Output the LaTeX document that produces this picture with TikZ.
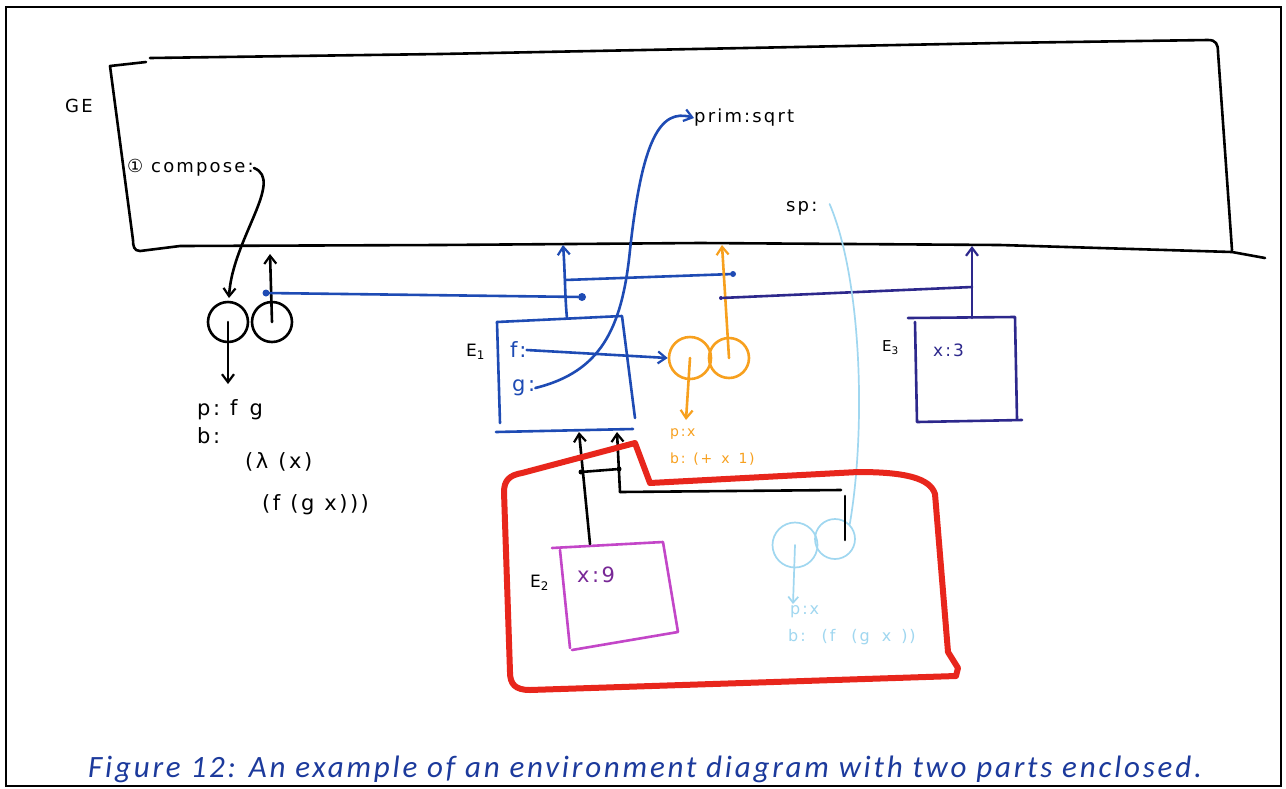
\documentclass[tikz,border=0pt]{standalone}
\usepackage{fontspec}
\setmainfont{DejaVu Sans}
\newfontfamily\hand[LetterSpace=12]{DejaVu Sans}
\newfontfamily\capfont[LetterSpace=9]{Carlito}
\newcommand\hgap[1][7pt]{\hspace{#1}}
\usetikzlibrary{arrows.meta}
\definecolor{penblue}{RGB}{30,75,180}
\definecolor{indigo}{RGB}{45,40,140}
\definecolor{penorange}{RGB}{247,160,30}
\definecolor{lightblue}{RGB}{160,215,240}
\definecolor{penred}{RGB}{232,38,28}
\definecolor{penmagenta}{RGB}{195,70,200}
\definecolor{penpurple}{RGB}{120,40,150}
\definecolor{capblue}{RGB}{28,58,156}
\begin{document}
\begin{tikzpicture}[x=1pt,y=-1pt,
  pen/.style={line width=2.6pt, line cap=round, line join=round},
  thin pen/.style={line width=1.7pt, line cap=round, line join=round},
  arr/.style={-{Straight Barb[length=8pt,width=12pt,line width=2.2pt]}},
  lbl/.style={font=\hand\fontsize{18}{18}\selectfont, inner sep=0pt, anchor=west},
  big lbl/.style={font=\hand\fontsize{21}{21}\selectfont, inner sep=0pt, anchor=west},
  small lbl/.style={font=\hand\fontsize{14}{14}\selectfont, inner sep=0pt, anchor=west},
  frame circle/.style={circle, draw, pen, minimum size=40pt, inner sep=0pt},
  dot/.style={circle, fill, inner sep=0pt, minimum size=6pt}]
\useasboundingbox (0,0) rectangle (1286,788);
\fill[white] (0,0) rectangle (1286,788);
% outer frame
\draw[line width=1.2pt] (6,7) -- (1281,7) -- (1281,786) -- (6,786) -- cycle;

% Global environment box
\draw[pen] (1265,258) -- (1232,252) -- (1000,245) -- (700,243) -- (440,245) -- (180,246) -- (140,251)
  .. controls (134,251) and (133,246) .. (133,240) -- (110,66) -- (146,62) (150,58) -- (440,54) -- (1000,43) -- (1208,40)
  .. controls (1216,40) and (1218,44) .. (1218,52) -- (1232,250);
\node[lbl] (ge) at (65,106) {GE};
\node[lbl] (compose) at (127,168) {① compose:};

% compose closure
\node[frame circle] (c1l) at (228,322) {};
\node[frame circle] (c1r) at (272,322) {};
\coordinate (c1ldown) at (228,384);
\coordinate (gebot1) at (270,254);
\draw[pen,arr] (compose.east) .. controls (285,180) and (232,240) .. (229,298);
\draw[pen,arr] (c1r.center) -- (gebot1);
\draw[pen,arr] (c1l.center) -- (c1ldown);
\node[big lbl] (p1) at (197,410) {p:\hgap[10pt]f\hgap[12pt]g};
\node[big lbl] (b1) at (197,436) {b:};
\node[big lbl] (b1a) at (245,462) {(λ\hgap[10pt](x)};
\node[big lbl] (b1b) at (262,505) {(f\hgap[10pt](g\hgap[10pt]x)))};

% blue line from closure 1
\node[dot,penblue,minimum size=7pt] (bd1) at (266,293) {};
\node[dot,penblue,minimum size=8pt] (bd2) at (582,297) {};
\draw[pen,penblue] (bd1) -- (bd2);

% E1 frame
\draw[pen,penblue] (497,322) -- (500,423);
\draw[pen,penblue] (497,322) -- (622,316) -- (635,418);
\draw[pen,penblue] (496,432) -- (633,429);
\node[lbl,font=\hand\fontsize{17}{17}\selectfont] (e1lbl) at (466,352) {E\textsubscript{1}};
\node[lbl,penblue,font=\hand\fontsize{21}{21}\selectfont] (f) at (510,350) {f:};
\node[lbl,penblue,font=\hand\fontsize{21}{21}\selectfont] (g) at (512,388) {g:};
\coordinate (e1top) at (567,318);
\coordinate (gebot2) at (563,245);
\draw[pen,penblue,arr] (e1top) .. controls (565,300) and (565,270) .. (gebot2);
\coordinate (bj) at (565,280);
\node[dot,penblue] (bd3) at (733,274) {};
\draw[pen,penblue] (bj) -- (bd3);

% prim:sqrt
\node[lbl,font=\hand\fontsize{18}{18}\selectfont] (sqrt) at (694,118) {prim:sqrt};
\draw[pen,penblue,arr] (g.east) .. controls (600,372) and (622,330) .. (630,250)
  .. controls (642,140) and (660,108) .. (sqrt.west);

% orange closure
\node[frame circle,penorange,minimum size=42pt] (c2l) at (690,358) {};
\node[frame circle,penorange,minimum size=40pt] (c2r) at (729,358) {};
\draw[pen,penblue,arr] (f.east) -- (c2l.west);
\coordinate (gebot3) at (722,245);
\coordinate (c2ldown) at (686,420);
\draw[pen,penorange,arr] (c2r.center) -- (gebot3);
\draw[pen,penorange,arr] (c2l.center) -- (c2ldown);
\node[small lbl,penorange] (p2) at (670,434) {p:x};
\node[small lbl,penorange] (b2) at (670,459) {b:\hgap[8pt](+\hgap[9pt]x\hgap[9pt]1)};

% E3
\draw[pen,indigo] (908,318) -- (1015,317) -- (1017,419);
\draw[pen,indigo] (915,322) -- (917,422) -- (1022,420);
\node[lbl,font=\hand\fontsize{15}{15}\selectfont] (e3lbl) at (882,348) {E\textsubscript{3}};
\node[lbl,indigo,font=\hand\fontsize{17}{17}\selectfont] (x3) at (933,350) {x:3};
\coordinate (e3top) at (972,318);
\coordinate (gebot4) at (972,246);
\draw[pen,indigo,arr] (e3top) -- (gebot4);
\coordinate (ij) at (972,287);
\node[dot,indigo,minimum size=4pt] (od) at (721,298) {};
\draw[pen,indigo] (od) -- (ij);

% sp
\node[lbl] (sp) at (786,208) {sp:};
\node[frame circle,lightblue,thin pen,minimum size=45pt] (c3l) at (795,545) {};
\node[frame circle,lightblue,thin pen,minimum size=40pt] (c3r) at (835,539) {};
\draw[thin pen,lightblue] (sp.east) ++(12,-4) .. controls (862,280) and (866,430) .. (c3r.north east);
\coordinate (c3ldown) at (793,604);
\draw[thin pen,lightblue,-{Straight Barb[length=6pt,width=10pt]}] (c3l.center) -- (c3ldown);
\node[small lbl,lightblue,font=\hand\fontsize{16}{16}\selectfont] (p3) at (790,612) {p:x};
\node[small lbl,lightblue,font=\hand\fontsize{16}{16}\selectfont] (b3) at (788,637) {b:\hgap[16pt](f\hgap[16pt](g\hgap[12pt]x\hgap[10pt]))};

% E2
\draw[pen,penmagenta] (552,548) -- (663,542) -- (678,632) -- (572,650);
\draw[pen,penmagenta] (560,550) -- (570,648);
\node[lbl,font=\hand\fontsize{17}{17}\selectfont] (e2lbl) at (530,583) {E\textsubscript{2}};
\node[big lbl,penpurple] (x9) at (577,575) {x:9};

% black connectors from E2 and light blue closure
\coordinate (e2top) at (590,544);
\coordinate (e1bot1) at (579,432);
\coordinate (e1bot2) at (617,432);
\coordinate (bk) at (620,492);
\coordinate (bkr) at (841,490);
\draw[pen,arr] (e2top) -- (e1bot1);
\draw[pen,arr] (bk) -- (e1bot2);
\node[dot,minimum size=5pt] (k1) at (581,472) {};
\node[dot,minimum size=5pt] (k2) at (619,469) {};
\draw[pen] (k1) -- (k2);
\draw[pen] (bk) -- (bkr);
\coordinate (c3top) at (845,496);
\coordinate (c3bot) at (845,540);
\draw[pen] (c3top) -- (c3bot);

% red enclosure
\draw[line width=6pt,penred,line cap=round,line join=round]
  (635,443) -- (650,483) -- (858,472) .. controls (905,472) and (930,478) .. (935,494)
  -- (948,652) -- (958,668) -- (956,676) -- (530,690)
  .. controls (515,690) and (510,684) .. (510,672) -- (504,492)
  .. controls (504,480) and (510,475) .. (522,473) -- cycle;

% caption
\node[inner sep=0pt, anchor=base west, text=capblue, font=\capfont\itshape\fontsize{31}{31}\selectfont] (cap) at (88,777) {Figure 12: An example of an environment diagram with two parts enclosed.};
\end{tikzpicture}
\end{document}
